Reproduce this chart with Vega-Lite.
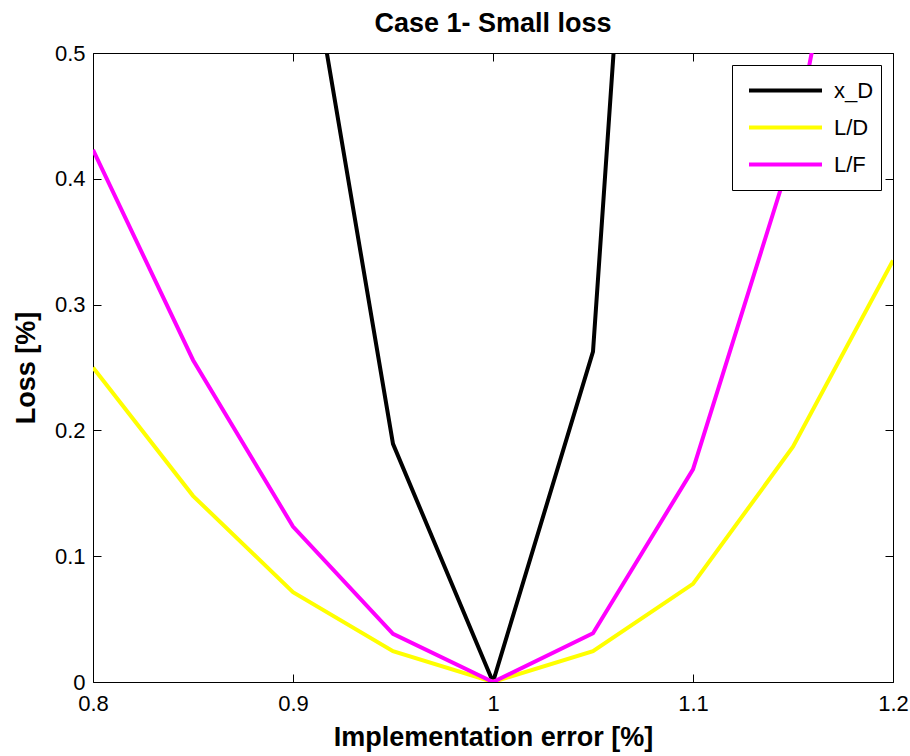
{
  "$schema": "https://vega.github.io/schema/vega-lite/v6.json",
  "width": 800,
  "height": 629,
  "autosize": {"type": "none"},
  "padding": {"left": 93, "top": 53, "right": 17, "bottom": 74},
  "background": "white",
  "title": {"text": "Case 1- Small loss", "fontSize": 27, "fontWeight": "bold", "font": "Liberation Sans", "color": "black", "anchor": "middle", "offset": 4},
  "data": {"values": [
    {"x": 0.9, "loss": 0.659, "series": "x_D"},
    {"x": 0.95, "loss": 0.1893, "series": "x_D"},
    {"x": 1.0, "loss": 0.0, "series": "x_D"},
    {"x": 1.05, "loss": 0.2626, "series": "x_D"},
    {"x": 1.1, "loss": 1.418, "series": "x_D"},
    {"x": 0.8, "loss": 0.25, "series": "L/D"},
    {"x": 0.85, "loss": 0.148, "series": "L/D"},
    {"x": 0.9, "loss": 0.0714, "series": "L/D"},
    {"x": 0.95, "loss": 0.0245, "series": "L/D"},
    {"x": 1.0, "loss": 0.0, "series": "L/D"},
    {"x": 1.05, "loss": 0.0245, "series": "L/D"},
    {"x": 1.1, "loss": 0.078, "series": "L/D"},
    {"x": 1.15, "loss": 0.187, "series": "L/D"},
    {"x": 1.2, "loss": 0.335, "series": "L/D"},
    {"x": 0.8, "loss": 0.423, "series": "L/F"},
    {"x": 0.85, "loss": 0.256, "series": "L/F"},
    {"x": 0.9, "loss": 0.1236, "series": "L/F"},
    {"x": 0.95, "loss": 0.0383, "series": "L/F"},
    {"x": 1.0, "loss": 0.0, "series": "L/F"},
    {"x": 1.05, "loss": 0.0388, "series": "L/F"},
    {"x": 1.1, "loss": 0.169, "series": "L/F"},
    {"x": 1.15, "loss": 0.423, "series": "L/F"},
    {"x": 1.2, "loss": 0.836, "series": "L/F"}
  ]},
  "config": {
    "font": "Liberation Sans",
    "view": {"stroke": "black", "strokeWidth": 1},
    "axis": {"grid": false, "domain": false, "tickColor": "black", "tickSize": -8, "tickWidth": 1, "labelColor": "black", "labelFontSize": 22, "titleColor": "black", "titleFontSize": 27, "titleFontWeight": "bold", "labelFont": "Liberation Sans", "titleFont": "Liberation Sans", "labelFlush": false}
  },
  "layer": [
    {
      "mark": {"type": "line", "strokeWidth": 4, "clip": true},
      "encoding": {
        "x": {"field": "x", "type": "quantitative", "scale": {"domain": [0.8, 1.2], "nice": false, "zero": false},
              "axis": {"orient": "bottom", "values": [0.8, 0.9, 1.0, 1.1, 1.2], "format": "~g", "title": "Implementation error [%]", "labelPadding": 19, "titlePadding": 10}},
        "y": {"field": "loss", "type": "quantitative", "scale": {"domain": [0, 0.5], "nice": false},
              "axis": {"orient": "left", "values": [0, 0.1, 0.2, 0.3, 0.4, 0.5], "format": "~g", "title": "Loss [%]", "labelPadding": 16, "titlePadding": 14}},
        "color": {"field": "series", "type": "nominal", "sort": ["x_D", "L/D", "L/F"],
                  "scale": {"domain": ["x_D", "L/D", "L/F"], "range": ["#000000", "#FFFF00", "#FF00FF"]},
                  "legend": {"title": null, "orient": "top-right", "offset": 12, "strokeColor": "black", "fillColor": "white", "padding": 7,
                             "symbolType": "stroke", "symbolSize": 5329, "symbolStrokeWidth": 4, "clipHeight": 37, "rowPadding": 0,
                             "labelFontSize": 22, "labelColor": "black", "labelOffset": 10, "symbolOffset": 8}}
      }
    },
    {
      "mark": {"type": "line", "strokeWidth": 0, "opacity": 0, "clip": true},
      "encoding": {
        "x": {"field": "x", "type": "quantitative", "axis": {"orient": "top", "values": [0.8, 0.9, 1.0, 1.1, 1.2], "labels": false, "title": null}},
        "y": {"field": "loss", "type": "quantitative", "axis": {"orient": "right", "values": [0, 0.1, 0.2, 0.3, 0.4, 0.5], "labels": false, "title": null}},
        "detail": {"field": "series"}
      }
    }
  ],
  "resolve": {"axis": {"x": "independent", "y": "independent"}}
}
